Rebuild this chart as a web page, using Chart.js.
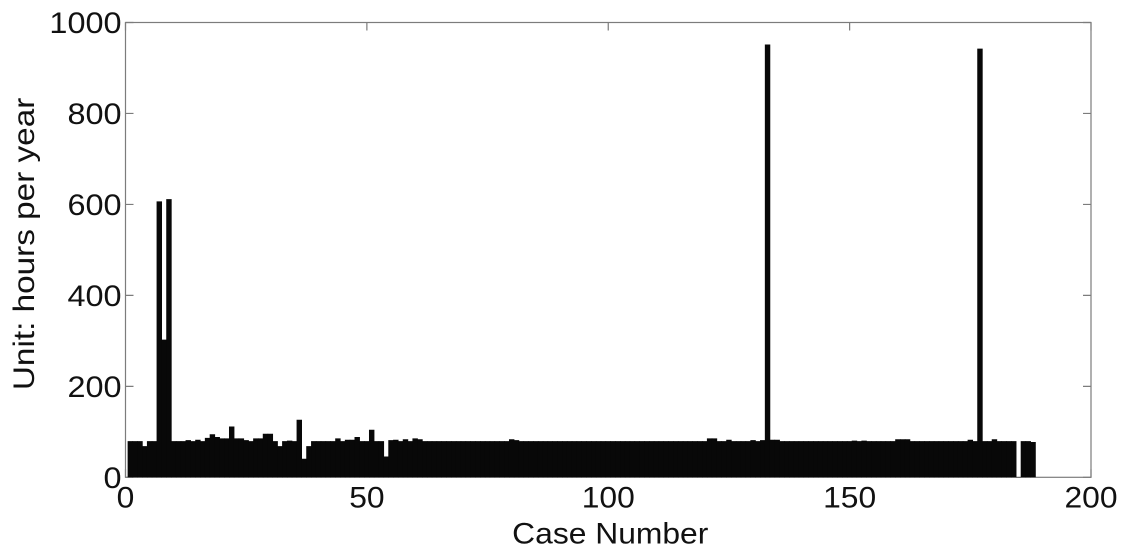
<!DOCTYPE html>
<html><head><meta charset="utf-8">
<script src="https://cdn.jsdelivr.net/npm/chart.js@4/dist/chart.umd.min.js"></script>
<style>html,body{margin:0;padding:0;background:#fff;}#wrap{width:1125px;height:550px;}</style>
</head><body><div id="wrap"><canvas id="c" width="1125" height="550"></canvas></div>
<script>
// Values (hours per year) for cases 1..188
const caseValues = [
  79, 79, 79, 68, 79, 79, 606, 302, 611, 79,
  79, 79, 81, 79, 82, 79, 86, 94, 88, 85,
  85, 111, 85, 85, 81, 79, 85, 85, 95, 95,
  79, 68, 79, 80, 79, 126, 40, 68, 79, 79,
  79, 79, 79, 85, 79, 82, 82, 88, 79, 79,
  104, 79, 79, 45, 81, 82, 79, 83, 79, 85,
  83, 79, 79, 79, 79, 79, 79, 79, 79, 79,
  79, 79, 79, 79, 79, 79, 79, 79, 79, 83,
  81, 79, 79, 79, 79, 79, 79, 79, 79, 79,
  79, 79, 79, 79, 79, 79, 79, 79, 79, 79,
  79, 79, 79, 79, 79, 79, 79, 79, 79, 79,
  79, 79, 79, 79, 79, 79, 79, 79, 79, 79,
  85, 85, 79, 79, 82, 79, 79, 79, 79, 81,
  79, 81, 951, 82, 82, 79, 79, 79, 79, 79,
  79, 79, 79, 79, 79, 79, 79, 79, 79, 79,
  80, 79, 80, 79, 79, 79, 79, 79, 79, 83,
  83, 83, 79, 79, 79, 79, 79, 79, 79, 79,
  79, 79, 79, 79, 82, 79, 942, 79, 79, 83,
  79, 79, 79, 79, 0, 79, 79, 77
];
const caseNumbers = caseValues.map((v, i) => i + 1);
const xTickValues = [0, 50, 100, 150, 200];
const yTickValues = [0, 200, 400, 600, 800, 1000];
const xTitle = 'Case Number';
const yTitle = 'Unit: hours per year';

const FONT = '"Liberation Sans", Arial, sans-serif';
const TEXT = '#111111';
const FRAME = '#7c7c7c';

function stretchedText(ctx, text, x, y, align, sx, size, rot) {
  ctx.save();
  ctx.translate(x, y);
  if (rot) ctx.rotate(rot);
  ctx.scale(sx, 1);
  ctx.font = size + 'px ' + FONT;
  ctx.textAlign = align;
  ctx.textBaseline = 'alphabetic';
  ctx.fillStyle = TEXT;
  ctx.fillText(text, 0, 0);
  ctx.restore();
}

const framePlugin = {
  id: 'frame',
  beforeDatasetsDraw(chart) {
    const { ctx, chartArea: a, scales } = chart;
    ctx.save();
    ctx.strokeStyle = FRAME;
    ctx.lineWidth = 1.2;
    ctx.strokeRect(a.left, a.top, a.right - a.left, a.bottom - a.top);
    ctx.beginPath();
    const tl = 8;
    yTickValues.forEach(v => {
      const py = scales.y.getPixelForValue(v);
      ctx.moveTo(a.left, py); ctx.lineTo(a.left + tl, py);
      ctx.moveTo(a.right, py); ctx.lineTo(a.right - tl, py);
    });
    xTickValues.forEach(v => {
      const px = scales.x.getPixelForValue(v);
      ctx.moveTo(px, a.bottom); ctx.lineTo(px, a.bottom - tl);
      ctx.moveTo(px, a.top); ctx.lineTo(px, a.top + tl);
    });
    ctx.stroke();
    ctx.restore();
  },
  afterDraw(chart) {
    const { ctx, chartArea: a, scales } = chart;
    xTickValues.forEach(v => {
      stretchedText(ctx, String(v), scales.x.getPixelForValue(v), a.bottom + 30, 'center', 1.06, 30);
    });
    yTickValues.forEach(v => {
      stretchedText(ctx, String(v), a.left - 4, scales.y.getPixelForValue(v) + 10.7, 'right', 1.08, 30);
    });
    stretchedText(ctx, xTitle, (a.left + a.right) / 2 + 2, a.bottom + 66, 'center', 1.06, 30);
    stretchedText(ctx, yTitle, 34, (a.top + a.bottom) / 2 - 6, 'center', 1.11, 30, -Math.PI / 2);
  }
};

new Chart(document.getElementById('c'), {
  type: 'bar',
  data: {
    datasets: [{
      data: caseNumbers.map((c, i) => ({ x: c, y: caseValues[i] })),
      backgroundColor: '#080808',
      borderColor: '#080808',
      borderWidth: 0,
      barPercentage: 1.0,
      categoryPercentage: 1,
      inflateAmount: 0.3
    }]
  },
  options: {
    responsive: false,
    animation: false,
    devicePixelRatio: 2,
    layout: { padding: { left: 125.5, right: 34, top: 22.5, bottom: 72.7 } },
    plugins: { legend: { display: false }, tooltip: { enabled: false } },
    scales: {
      x: { type: 'linear', min: 0, max: 200, offset: false, display: false },
      y: { type: 'linear', min: 0, max: 1000, display: false }
    }
  },
  plugins: [framePlugin]
});
</script>
</body></html>
